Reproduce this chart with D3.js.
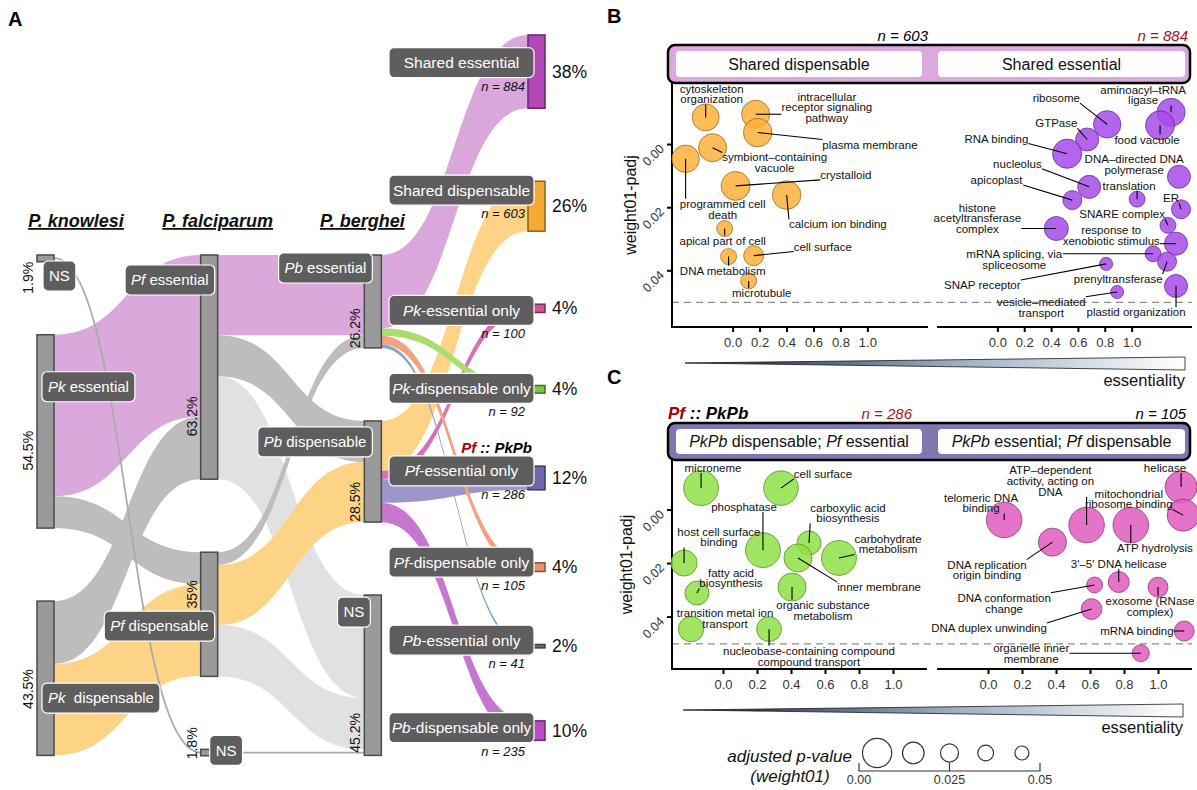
<!DOCTYPE html>
<html>
<head>
<meta charset="utf-8">
<script src="https://cdn.jsdelivr.net/npm/d3@7"></script>
<style>
  body { margin: 0; background: #fff; }
  svg { font-family: "Liberation Sans", Arial, sans-serif; }
</style>
</head>
<body>
<svg id="fig" width="1197" height="790"></svg>
<script>
// ---------- panel A : essentiality calls per species ----------
const pkStates = ['NS', 'essential', 'dispensable'];
const pkPct = [1.9, 54.5, 43.5];
const pfStates = ['essential', 'dispensable', 'NS'];
const pfPct = [63.2, 35, 1.8];
const pbStates = ['essential', 'dispensable', 'NS'];
const pbPct = [26.2, 28.5, 45.2];

// flows between neighbouring species (% of genes)
const pkToPf = [
  ['essential', 'essential', 45.5],
  ['essential', 'dispensable', 9.0],
  ['dispensable', 'essential', 17.7],
  ['dispensable', 'dispensable', 25.8],
  ['NS', 'NS', 1.8]
];
const pfToPb = [
  ['essential', 'essential', 22.6],
  ['essential', 'dispensable', 11.6],
  ['essential', 'NS', 29.0],
  ['dispensable', 'essential', 3.6],
  ['dispensable', 'dispensable', 16.9],
  ['dispensable', 'NS', 14.5],
  ['NS', 'NS', 1.8]
];

// categories of the 3-way orthologs
const categories = ['Shared essential', 'Shared dispensable', 'Pk-essential only', 'Pk-dispensable only',
  'Pf-essential only', 'Pf-dispensable only', 'Pb-essential only', 'Pb-dispensable only'];
const catN = [884, 603, 100, 92, 286, 105, 41, 235];
const catPct = [38, 26, 4, 4, 12, 4, 2, 10];
const catFrom = ['essential', 'dispensable', 'dispensable', 'essential', 'dispensable', 'essential', 'essential', 'dispensable'];
const catColor = ['#b347b8', '#f7a935', '#d94f96', '#7dc242', '#6d66a8', '#e8916f', '#66707a', '#b84cc0'];
const catFlow = ['#d9a7dc', '#fdd385', '#d773b4', '#a9dc73', '#9b95c9', '#f0a282', '#7fa3c9', '#c676cf'];
const genesPerPct = 42.82;

// ---------- panel B / C : enriched GO terms ----------
const sharedDispTerms = [
  {term: 'cytoskeleton\norganization', x: -0.20, y: -0.0086, p: 0.0069, lx: -0.156, ly: -0.016},
  {term: 'intracellular\nreceptor signaling\npathway', x: 0.171, y: -0.0096, p: 0.0059, lx: 0.699, ly: -0.0118},
  {term: 'plasma membrane', x: 0.186, y: -0.0038, p: 0.0055, lx: 1.019, ly: 0.0},
  {term: 'symbiont–containing\nvacuole', x: -0.149, y: 0.001, p: 0.0059, lx: 0.312, ly: 0.0058},
  {term: 'programmed cell\ndeath', x: -0.349, y: 0.0045, p: 0.0065, lx: -0.074, ly: 0.0205},
  {term: 'crystalloid', x: 0.022, y: 0.0131, p: 0.0052, lx: 0.84, ly: 0.0096},
  {term: 'calcium ion binding', x: 0.401, y: 0.016, p: 0.0055, lx: 0.781, ly: 0.0253},
  {term: 'apical part of cell', x: -0.059, y: 0.0266, p: 0.034, lx: -0.074, ly: 0.0304},
  {term: 'DNA metabolism', x: -0.030, y: 0.0355, p: 0.034, lx: -0.074, ly: 0.040},
  {term: 'cell surface', x: 0.156, y: 0.0352, p: 0.019, lx: 0.669, ly: 0.0323},
  {term: 'microtubule', x: 0.119, y: 0.0432, p: 0.034, lx: 0.216, ly: 0.047}
];
const sharedEssTerms = [
  {term: 'ribosome', x: 0.818, y: -0.0064, p: 0.0065, lx: 0.439, ly: -0.0147},
  {term: 'aminoacyl–tRNA\nligase', x: 1.294, y: -0.0102, p: 0.0059, lx: 1.086, ly: -0.0157},
  {term: 'food vacuole', x: 1.212, y: -0.0061, p: 0.0052, lx: 1.115, ly: -0.0016},
  {term: 'GTPase', x: 0.669, y: -0.0016, p: 0.0122, lx: 0.439, ly: -0.0067},
  {term: 'RNA binding', x: 0.52, y: 0.0029, p: 0.005, lx: -0.007, ly: -0.0019},
  {term: 'DNA–directed DNA\npolymerase', x: 1.353, y: 0.0102, p: 0.0122, lx: 1.019, ly: 0.0064},
  {term: 'nucleolus', x: 0.684, y: 0.0134, p: 0.0122, lx: 0.149, ly: 0.0061},
  {term: 'apicoplast', x: 0.558, y: 0.0176, p: 0.0218, lx: -0.007, ly: 0.0112},
  {term: 'translation', x: 1.041, y: 0.0173, p: 0.034, lx: 0.981, ly: 0.0131},
  {term: 'ER', x: 1.368, y: 0.0205, p: 0.0218, lx: 1.294, ly: 0.017},
  {term: 'histone\nacetyltransferase\ncomplex', x: 0.439, y: 0.0266, p: 0.0106, lx: -0.149, ly: 0.0234},
  {term: 'SNARE complex', x: 1.271, y: 0.0256, p: 0.034, lx: 0.929, ly: 0.0221},
  {term: 'response to\nxenobiotic stimulus', x: 1.331, y: 0.0314, p: 0.0122, lx: 0.848, ly: 0.0288},
  {term: 'mRNA splicing, via\nspliceosome', x: 1.16, y: 0.0346, p: 0.034, lx: 0.126, ly: 0.0365},
  {term: 'prenyltransferase', x: 1.264, y: 0.0371, p: 0.0218, lx: 0.9, ly: 0.0426},
  {term: 'SNAP receptor', x: 0.81, y: 0.0378, p: 0.052, lx: -0.112, ly: 0.0445},
  {term: 'vesicle–mediated\ntransport', x: 0.892, y: 0.0467, p: 0.052, lx: 0.327, ly: 0.0515},
  {term: 'plastid organization', x: 1.331, y: 0.0448, p: 0.0122, lx: 1.033, ly: 0.0531}
];
const pfEssOnlyTerms = [
  {term: 'microneme', x: -0.129, y: -0.0082, p: 0.0022, lx: -0.059, ly: -0.0157},
  {term: 'cell surface', x: 0.341, y: -0.0082, p: 0.0023, lx: 0.588, ly: -0.0135},
  {term: 'phosphatase', x: 0.235, y: 0.015, p: 0.0022, lx: 0.124, ly: -0.0011},
  {term: 'carboxylic acid\nbiosynthesis', x: 0.506, y: 0.0123, p: 0.0106, lx: 0.735, ly: 0.0011},
  {term: 'carbohydrate\nmetabolism', x: 0.682, y: 0.0179, p: 0.0022, lx: 0.971, ly: 0.0127},
  {term: 'inner membrane', x: 0.441, y: 0.0179, p: 0.0059, lx: 0.918, ly: 0.0288},
  {term: 'host cell surface\nbinding', x: -0.229, y: 0.0198, p: 0.0079, lx: -0.024, ly: 0.0101},
  {term: 'fatty acid\nbiosynthesis', x: -0.153, y: 0.031, p: 0.0106, lx: 0.047, ly: 0.0254},
  {term: 'organic substance\nmetabolism', x: 0.406, y: 0.0288, p: 0.0059, lx: 0.588, ly: 0.0374},
  {term: 'transition metal ion\ntransport', x: -0.188, y: 0.0445, p: 0.0087, lx: 0.012, ly: 0.0404},
  {term: 'nucleobase-containing compound\ncompound transport', x: 0.271, y: 0.0445, p: 0.0094, lx: 0.506, ly: 0.0546}
];
const pfDispOnlyTerms = [
  {term: 'helicase', x: 1.136, y: -0.0086, p: 0.0033, lx: 1.041, ly: -0.0157},
  {term: 'mitochondrial\nribosome binding', x: 1.148, y: 0.0019, p: 0.0033, lx: 0.828, ly: -0.0041},
  {term: 'ATP–dependent\nactivity, acting on\nDNA', x: 0.58, y: 0.0056, p: 0.002, lx: 0.367, ly: -0.0108},
  {term: 'ATP hydrolysis', x: 0.84, y: 0.0056, p: 0.002, lx: 0.982, ly: 0.0142},
  {term: 'telomeric DNA\nbinding', x: 0.095, y: 0.0037, p: 0.002, lx: -0.041, ly: -0.0026},
  {term: 'DNA replication\norigin binding', x: 0.379, y: 0.012, p: 0.0059, lx: -0.006, ly: 0.0224},
  {term: "3'–5' DNA helicase", x: 0.769, y: 0.0269, p: 0.0164, lx: 0.769, ly: 0.0202},
  {term: 'DNA conformation\nchange', x: 0.627, y: 0.028, p: 0.034, lx: 0.095, ly: 0.0348},
  {term: 'exosome (RNase\ncomplex)', x: 1.0, y: 0.0288, p: 0.019, lx: 0.953, ly: 0.0359},
  {term: 'DNA duplex unwinding', x: 0.609, y: 0.037, p: 0.017, lx: 0.006, ly: 0.0441},
  {term: 'mRNA binding', x: 1.154, y: 0.0452, p: 0.019, lx: 0.876, ly: 0.0452},
  {term: 'organelle inner\nmembrane', x: 0.899, y: 0.0535, p: 0.029, lx: 0.254, ly: 0.0535}
];
const xTicks = [0, 0.2, 0.4, 0.6, 0.8, 1.0];
const yTicks = [0, 0.02, 0.04];
const padjCutoff = 0.05;
const legendP = [0.005, 0.015, 0.025, 0.035, 0.045];
const legendTicks = [0, 0.025, 0.05];
const legendTickLabels = ['0.00', '0.025', '0.05'];

const svg = d3.select('#fig');
const TXT = '#111';

// ===================== PANEL A =====================
const gA = svg.append('g');

const nodes = [];
function addColumn(col, states, pct) {
  states.forEach((s, i) => nodes.push({id: col + ':' + s, col, name: s, pct: pct[i], value: pct[i] * genesPerPct}));
}
addColumn('Pk', pkStates, pkPct);
addColumn('Pf', pfStates, pfPct);
addColumn('Pb', pbStates, pbPct);
categories.forEach((c, i) => nodes.push({id: 'cat:' + c, col: 'cat', name: c, pct: catPct[i], n: catN[i], value: catN[i], idx: i}));
const byId = new Map(nodes.map(d => [d.id, d]));

function kindOf(s, t) {
  if (s === 'NS' && t === 'NS') return 'nsns';
  if (t === 'NS') return 'toNS';
  if (s === t) return s;
  return 'mixed';
}
const links = [];
pkToPf.forEach(([s, t, v]) => links.push({source: byId.get('Pk:' + s), target: byId.get('Pf:' + t), value: v * genesPerPct, kind: kindOf(s, t)}));
pfToPb.forEach(([s, t, v]) => links.push({source: byId.get('Pf:' + s), target: byId.get('Pb:' + t), value: v * genesPerPct, kind: kindOf(s, t)}));
categories.forEach((c, i) => links.push({source: byId.get('Pb:' + catFrom[i]), target: byId.get('cat:' + c), value: catN[i], kind: 'cat', idx: i}));

// layout: stacked nodes, same px-per-gene everywhere
const colX = d3.scalePoint().domain(['Pk', 'Pf', 'Pb', 'cat']).range([37, 528]);
const nodeW = 17;
const hScale = d3.scaleLinear().domain([0, 1000]).range([0, 82.85]);
const colTop = {Pk: 255, Pf: 255, Pb: 255, cat: 35};
const nodePad = 73;
d3.group(nodes, d => d.col).forEach((arr, col) => {
  let cur = colTop[col];
  arr.forEach(n => {
    n.x = colX(col); n.y0 = cur; n.y1 = cur + hScale(n.value); cur = n.y1 + nodePad;
  });
});
nodes.forEach(n => {
  const out = links.filter(l => l.source === n).sort((a, b) => a.target.y0 - b.target.y0);
  let c = n.y0;
  out.forEach(l => { l.sy0 = c; c += hScale(l.value); l.sy1 = c; });
  const inc = links.filter(l => l.target === n).sort((a, b) => a.source.y0 - b.source.y0);
  c = n.y0;
  inc.forEach(l => { l.ty0 = c; c += hScale(l.value); l.ty1 = c; });
});

function bandPath(l) {
  const x0 = l.source.x + nodeW, x1 = l.target.x, xm = (x0 + x1) / 2;
  const p = d3.path();
  p.moveTo(x0, l.sy0);
  p.bezierCurveTo(xm, l.sy0, xm, l.ty0, x1, l.ty0);
  p.lineTo(x1, l.ty1);
  p.bezierCurveTo(xm, l.ty1, xm, l.sy1, x0, l.sy1);
  p.closePath();
  return p.toString();
}
function linePath(l) {
  const x0 = l.source.x + nodeW, x1 = l.target.x, xm = (x0 + x1) / 2;
  const a = (l.sy0 + l.sy1) / 2, b = (l.ty0 + l.ty1) / 2;
  const p = d3.path();
  p.moveTo(x0, a);
  p.bezierCurveTo(xm, a, xm, b, x1, b);
  return p.toString();
}
const flowFill = {toNS: '#e1e1e1', mixed: '#bdbdbd', essential: '#dba8db', dispensable: '#fdd486'};
const flowOrder = {toNS: 0, mixed: 1, essential: 2, dispensable: 2, cat: 3, nsns: 4};
const sortedLinks = links.slice().sort((a, b) => flowOrder[a.kind] - flowOrder[b.kind]);

gA.append('g').selectAll('path')
  .data(sortedLinks)
  .join('path')
  .attr('d', d => d.kind === 'nsns' ? linePath(d) : bandPath(d))
  .attr('fill', d => d.kind === 'nsns' ? 'none' : d.kind === 'cat' ? catFlow[d.idx] : flowFill[d.kind])
  .attr('stroke', d => d.kind === 'nsns' ? '#ababab' : 'none')
  .attr('stroke-width', d => d.kind === 'nsns' ? 1.8 : 0);

gA.append('g').selectAll('rect')
  .data(nodes)
  .join('rect')
  .attr('x', d => d.x).attr('y', d => d.y0)
  .attr('width', nodeW).attr('height', d => Math.max(2, d.y1 - d.y0))
  .attr('fill', d => d.col === 'cat' ? catColor[d.idx] : '#9a9a9a')
  .attr('stroke', d => d.col === 'cat' ? d3.color(catColor[d.idx]).darker(1.6) : '#4a4a4a')
  .attr('stroke-width', 1.5);

// dark label boxes
function boxLabel(g, parts, o) {
  const t = g.append('text').attr('font-size', o.size).attr('fill', '#fff')
    .attr('y', o.cy + o.size * 0.35);
  parts.forEach(([s, it]) => t.append('tspan').attr('font-style', it ? 'italic' : 'normal').text(s));
  const w = t.node().getComputedTextLength();
  const bw = o.width || (w + 2 * o.padX);
  const bx = o.anchor === 'start' ? o.x : o.x - bw;
  t.attr('x', bx + bw / 2).attr('text-anchor', 'middle');
  g.insert('rect', () => t.node())
    .attr('x', bx).attr('y', o.cy - o.h / 2).attr('width', bw).attr('height', o.h)
    .attr('rx', 5).attr('fill', '#5e5e5e').attr('stroke', '#fff').attr('stroke-width', 1.2);
  return {x: bx, y: o.cy - o.h / 2, w: bw, h: o.h};
}
function nameParts(name) {
  const m = name.match(/^(P[kfb])(-.*)$/);
  return m ? [[m[1], true], [m[2], false]] : [[name, false]];
}

// species node labels: [anchor side, dx from node x, dy of box top from node top]
const speciesLabelPos = {
  'Pk:NS': ['start', 6, 6], 'Pk:essential': ['start', 5, 37], 'Pk:dispensable': ['start', 5, 82],
  'Pf:essential': ['end', 14, 10], 'Pf:dispensable': ['end', 14, 59], 'Pf:NS': ['start', 9, -14],
  'Pb:essential': ['end', 8, -2], 'Pb:dispensable': ['end', 8, 6], 'Pb:NS': ['end', 6, 2]
};
// rotated percentage: [fraction of node height, extra px]
const speciesPctPos = {
  'Pk:NS': [1, 16], 'Pk:essential': [0.6, 0], 'Pk:dispensable': [0.57, 0],
  'Pf:essential': [0.72, 0], 'Pf:dispensable': [0.34, 0], 'Pf:NS': [0, -6],
  'Pb:essential': [0.79, 0], 'Pb:dispensable': [0.8, 0], 'Pb:NS': [0.86, 0]
};
const gLab = gA.append('g');
nodes.filter(n => n.col !== 'cat').forEach(n => {
  const [anchor, dx, dy] = speciesLabelPos[n.id];
  const gap = n.id === 'Pk:dispensable' ? '\u00a0 ' : ' ';
  const parts = n.name === 'NS' ? [['NS', false]] : [[n.col, true], [gap + n.name, false]];
  boxLabel(gLab, parts, {x: n.x + dx, anchor, cy: n.y0 + dy + 15, h: 30, padX: 6, size: 15});
  const [f, off] = speciesPctPos[n.id];
  const cy = n.y0 + f * (n.y1 - n.y0) + off;
  gLab.append('text')
    .attr('transform', `translate(${n.x - 4},${cy}) rotate(-90)`)
    .attr('text-anchor', 'middle').attr('font-size', 14).attr('fill', TXT)
    .text(n.pct + '%');
});

// category labels
const catNudge = [-9, -16, 2, -1, -7, -5, -6, -3];
nodes.filter(n => n.col === 'cat').forEach(n => {
  const cy = (n.y0 + n.y1) / 2 + catNudge[n.idx];
  const b = boxLabel(gLab, nameParts(n.name), {x: n.x + 6, anchor: 'end', cy, h: 30, width: 145, size: 15.5});
  gLab.append('text').attr('x', n.x - 3).attr('y', b.y + b.h + 13)
    .attr('text-anchor', 'end').attr('font-size', 13).attr('font-style', 'italic').attr('fill', TXT)
    .text('n = ' + n.n);
  gLab.append('text').attr('x', n.x + nodeW + 7).attr('y', (n.y0 + n.y1) / 2 + 6)
    .attr('font-size', 17.5).attr('fill', TXT).text(n.pct + '%');
});

// "Pf :: PkPb" marker above Pf-essential only
const pfOnly = byId.get('cat:Pf-essential only');
const mark = gA.append('text').attr('x', pfOnly.x + 4).attr('y', pfOnly.y0 - 13)
  .attr('text-anchor', 'end').attr('font-size', 15).attr('font-weight', 'bold').attr('font-style', 'italic');
mark.append('tspan').attr('fill', '#b00000').text('Pf');
mark.append('tspan').attr('fill', '#000').text(' :: PkPb');

// species headers
const headers = [['Pk', 'P. knowlesi', 39], ['Pf', 'P. falciparum', 17], ['Pb', 'P. berghei', -2]];
gA.selectAll('text.hdr').data(headers).join('text')
  .attr('class', 'hdr')
  .attr('x', d => colX(d[0]) + d[2]).attr('y', 227)
  .attr('text-anchor', 'middle').attr('font-size', 18).attr('font-weight', 'bold')
  .attr('font-style', 'italic').attr('text-decoration', 'underline').attr('fill', TXT)
  .text(d => d[1]);

// panel letters
[['A', 8, 26], ['B', 607, 23], ['C', 607, 384]].forEach(([t, x, y]) =>
  svg.append('text').attr('x', x).attr('y', y).attr('font-size', 20).attr('font-weight', 'bold').attr('fill', '#000').text(t));

// ===================== PANELS B / C =====================
const rScale = d3.scaleLinear()
  .domain([-Math.log10(0.045), -Math.log10(0.005)])
  .range([7, 14.6]);
const radius = p => rScale(-Math.log10(p));

const grad = svg.append('defs').append('linearGradient').attr('id', 'essGrad');
grad.append('stop').attr('offset', '0%').attr('stop-color', '#0c1c38');
grad.append('stop').attr('offset', '55%').attr('stop-color', '#9fb0c2');
grad.append('stop').attr('offset', '100%').attr('stop-color', '#ffffff');

function termPanel(o) {
  const g = svg.append('g');
  const y = d3.scaleLinear().domain(o.yDomain).range([o.top, o.bottom]);

  // header strip
  g.append('rect').attr('x', 668).attr('y', o.stripTop).attr('width', 522).attr('height', o.top - o.stripTop)
    .attr('rx', 7).attr('fill', o.stripFill).attr('stroke', '#000').attr('stroke-width', 2.5);
  const inner = [[676, 922], [938, 1185]];
  inner.forEach(([a, b], i) => {
    g.append('rect').attr('x', a).attr('y', o.stripTop + 6).attr('width', b - a).attr('height', o.top - o.stripTop - 12)
      .attr('rx', 4).attr('fill', '#fff');
    const t = g.append('text').attr('x', (a + b) / 2).attr('y', (o.stripTop + o.top) / 2 + 5.5)
      .attr('text-anchor', 'middle').attr('font-size', 16).attr('fill', TXT);
    o.stripLabels[i].forEach(([s, it]) => t.append('tspan').attr('font-style', it ? 'italic' : 'normal').text(s));
  });
  // n = ... above strip
  o.nLabels.forEach(([txt, col, x]) => g.append('text').attr('x', x).attr('y', o.stripTop - 4)
    .attr('text-anchor', 'end').attr('font-size', 15).attr('font-style', 'italic').attr('fill', col).text(txt));

  // dashed cut-off
  g.append('line').attr('x1', o.facets[0].range[0]).attr('x2', o.facets[1].range[1])
    .attr('y1', y(padjCutoff)).attr('y2', y(padjCutoff))
    .attr('stroke', '#8c8c8c').attr('stroke-width', 1.4).attr('stroke-dasharray', '7,5');

  // y axis (left facet only)
  const x0 = o.facets[0].range[0];
  g.append('line').attr('x1', x0).attr('x2', x0).attr('y1', o.top).attr('y2', o.bottom + 1)
    .attr('stroke', '#000').attr('stroke-width', 2);
  yTicks.forEach(v => {
    g.append('line').attr('x1', x0 - 5).attr('x2', x0).attr('y1', y(v)).attr('y2', y(v)).attr('stroke', '#000').attr('stroke-width', 2);
    g.append('text').attr('transform', `translate(${x0 - 7},${y(v) + 5}) rotate(-45)`)
      .attr('text-anchor', 'end').attr('font-size', 12.5).attr('fill', '#333').text(d3.format('.2f')(v));
  });
  g.append('text').attr('transform', `translate(${o.yTitleX},${(o.top + o.bottom) / 2}) rotate(-90)`)
    .attr('text-anchor', 'middle').attr('font-size', 16).attr('fill', TXT).text('weight01-padj');

  o.facets.forEach(f => {
    const x = d3.scaleLinear().domain(o.xDomain).range(f.range);
    g.append('line').attr('x1', f.range[0]).attr('x2', f.range[1]).attr('y1', o.bottom).attr('y2', o.bottom)
      .attr('stroke', '#000').attr('stroke-width', 2);
    const ax = g.append('g').attr('transform', `translate(0,${o.bottom})`)
      .call(d3.axisBottom(x).tickValues(xTicks).tickSize(5).tickPadding(6).tickFormat(d3.format('.1f')));
    ax.select('.domain').remove();
    ax.selectAll('line').attr('stroke', '#000').attr('stroke-width', 2);
    ax.selectAll('text').attr('font-size', 13).attr('fill', '#333').attr('font-family', null);

    const gb = g.append('g'), gs = g.append('g'), gl = g.append('g');
    gb.selectAll('circle').data(f.data).join('circle')
      .attr('cx', d => x(d.x)).attr('cy', d => y(d.y)).attr('r', d => radius(d.p))
      .attr('fill', f.fill).attr('fill-opacity', 0.85)
      .attr('stroke', d3.color(f.fill).darker(1.3)).attr('stroke-width', 0.8);
    f.data.forEach(d => {
      const lines = d.term.split('\n');
      const cx = x(d.lx), cy = y(d.ly);
      const t = gl.append('text').attr('text-anchor', 'middle').attr('font-size', 11.5).attr('fill', TXT);
      lines.forEach((ln, i) => t.append('tspan').attr('x', cx)
        .attr('y', cy + (i - (lines.length - 1) / 2) * 10.8 + 4).text(ln));
      const bb = t.node().getBBox();
      const px = x(d.x), py = y(d.y);
      const nx = Math.max(bb.x, Math.min(px, bb.x + bb.width));
      const ny = Math.max(bb.y + 1, Math.min(py, bb.y + bb.height - 1));
      if (Math.hypot(px - nx, py - ny) > 2) {
        gs.append('line').attr('x1', nx).attr('y1', ny).attr('x2', px).attr('y2', py)
          .attr('stroke', '#000').attr('stroke-width', 1.1);
      }
    });
  });

  // essentiality wedge
  const w = o.wedge;
  g.append('path')
    .attr('d', `M${w.x0},${w.y}L${w.x1},${w.y - 6}L${w.x1},${w.y + 7}Z`)
    .attr('fill', 'url(#essGrad)').attr('stroke', '#1b1b1b').attr('stroke-width', 0.8);
  g.append('text').attr('x', w.x1).attr('y', w.y + 23).attr('text-anchor', 'end')
    .attr('font-size', 16.5).attr('fill', TXT).text('essentiality');
}

termPanel({
  stripTop: 45, top: 83, bottom: 327,
  yDomain: [-0.0195, 0.0578], xDomain: [-0.45, 1.45],
  yTitleX: 636,
  stripFill: '#dba9db',
  stripLabels: [[['Shared dispensable', false]], [['Shared essential', false]]],
  nLabels: [['n = 603', '#000', 928], ['n = 884', '#a31515', 1188]],
  facets: [
    {range: [672, 928], data: sharedDispTerms, fill: '#fbb03b'},
    {range: [937, 1192], data: sharedEssTerms, fill: '#a64bea'}
  ],
  wedge: {x0: 685, x1: 1185, y: 363}
});

termPanel({
  stripTop: 423, top: 460, bottom: 669,
  yDomain: [-0.0187, 0.0594], xDomain: [-0.3, 1.2],
  yTitleX: 632,
  stripFill: '#7e78b0',
  stripLabels: [
    [['PkPb', true], [' dispensable; ', false], ['Pf', true], [' essential', false]],
    [['PkPb', true], [' essential; ', false], ['Pf', true], [' dispensable', false]]
  ],
  nLabels: [['n = 286', '#a31515', 912], ['n = 105', '#000', 1186]],
  facets: [
    {range: [672, 927], data: pfEssOnlyTerms, fill: '#8fe045'},
    {range: [937, 1192], data: pfDispOnlyTerms, fill: '#e05cc0'}
  ],
  wedge: {x0: 683, x1: 1183, y: 710}
});

// "Pf :: PkPb" title for panel C
const ct = svg.append('text').attr('x', 668).attr('y', 419).attr('font-size', 17)
  .attr('font-weight', 'bold').attr('font-style', 'italic');
ct.append('tspan').attr('fill', '#a00000').text('Pf');
ct.append('tspan').attr('fill', '#000').text(' ::  PkPb');

// size legend
const gL = svg.append('g');
const lx = d3.scaleLinear().domain([0, 0.05]).range([859, 1040]);
gL.selectAll('circle').data(legendP).join('circle')
  .attr('cx', d => lx(d)).attr('cy', 753).attr('r', d => radius(d))
  .attr('fill', 'none').attr('stroke', '#333').attr('stroke-width', 1.2);
gL.append('path')
  .attr('d', `M${lx(0)},763V771H${lx(0.05)}V763M${lx(0.025)},771V763`)
  .attr('fill', 'none').attr('stroke', '#333').attr('stroke-width', 1.2);
gL.selectAll('text.lt').data(legendTicks).join('text')
  .attr('class', 'lt')
  .attr('x', d => lx(d)).attr('y', 784).attr('text-anchor', 'middle')
  .attr('font-size', 12.5).attr('fill', '#333')
  .text((d, i) => legendTickLabels[i]);
gL.append('text').attr('x', 852).attr('y', 762).attr('text-anchor', 'end')
  .attr('font-size', 17).attr('font-style', 'italic').attr('fill', TXT).text('adjusted p-value');
gL.append('text').attr('x', 790).attr('y', 782).attr('text-anchor', 'middle')
  .attr('font-size', 17).attr('font-style', 'italic').attr('fill', TXT).text('(weight01)');
</script>
</body>
</html>
